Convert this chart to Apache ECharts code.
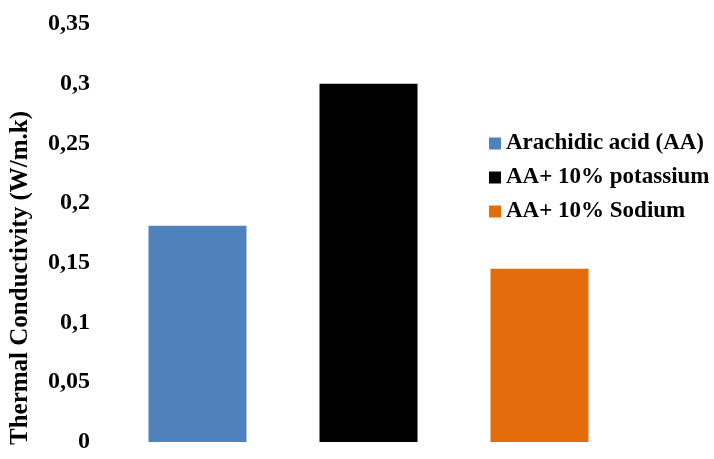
<!DOCTYPE html>
<html>
<head>
<meta charset="utf-8">
<script src="https://cdn.jsdelivr.net/npm/echarts@6/dist/echarts.min.js"></script>
<style>html,body{margin:0;padding:0;background:#fff;}#c{width:714px;height:459px;}</style>
</head>
<body>
<div id="c"></div>
<script>
const seriesNames = ['Arachidic acid (AA)', 'AA+ 10% potassium', 'AA+ 10% Sodium'];
const seriesValues = [0.181, 0.300, 0.145];
const seriesColors = ['#4F81BD', '#000000', '#E46C0A'];
const yTicks = { min: 0, max: 0.35, interval: 0.05 };
const yTitle = 'Thermal Conductivity (W/m.k)';

const font = '"Liberation Serif", "Times New Roman", serif';
const chart = echarts.init(document.getElementById('c'), null, { renderer: 'canvas' });
chart.setOption({
  animation: false,
  backgroundColor: '#fff',
  grid: { left: 100, right: 77, top: 24, bottom: 17, containLabel: false },
  xAxis: {
    type: 'category', data: [''],
    axisLine: { show: false }, axisTick: { show: false }, axisLabel: { show: false }, splitLine: { show: false }
  },
  yAxis: {
    type: 'value', min: yTicks.min, max: yTicks.max, interval: yTicks.interval,
    axisLine: { show: false }, axisTick: { show: false }, splitLine: { show: false },
    axisLabel: {
      margin: 10, color: '#000', fontFamily: font, fontWeight: 'bold', fontSize: 24,
      formatter: v => String(Math.round(v * 100) / 100).replace('.', ',')
    }
  },
  legend: {
    orient: 'vertical', left: 489, top: 132, padding: 0,
    itemWidth: 12, itemHeight: 12, itemGap: 11, itemTextGap: 5,
    icon: 'rect',
    textStyle: { color: '#000', fontFamily: font, fontWeight: 'bold', fontSize: 23, lineHeight: 23 },
    data: seriesNames
  },
  graphic: [{
    type: 'text', x: 21, y: 278, rotation: Math.PI / 2,
    style: { text: yTitle, fill: '#000', font: 'bold 25px ' + font, align: 'center', verticalAlign: 'middle' }
  }],
  series: seriesNames.map((n, i) => ({
    name: n, type: 'bar', data: [seriesValues[i]],
    barWidth: 98, barGap: '74.5%',
    itemStyle: { color: seriesColors[i] }
  }))
});
</script>
</body>
</html>
